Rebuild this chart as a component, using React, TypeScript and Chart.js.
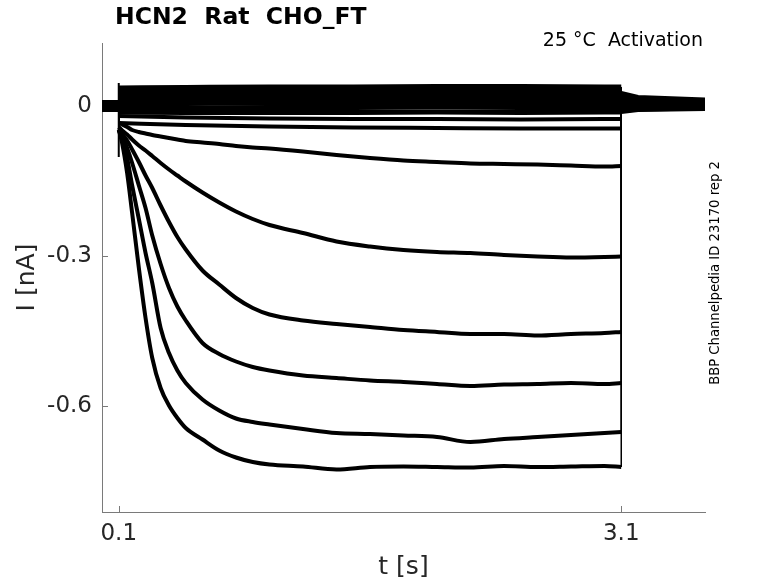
import { useEffect, useRef } from 'react';
import { Chart, registerables } from 'chart.js';

Chart.register(...registerables);

const TITLE = 'HCN2  Rat  CHO_FT';
const CONDITION = '25 °C  Activation';
const SOURCE = 'BBP Channelpedia ID 23170 rep 2';
const X_LABEL = 't [s]';
const Y_LABEL = 'I [nA]';

const X_TICKS = [0.1, 3.1];
const X_TICK_LABELS = ['0.1', '3.1'];
const Y_TICKS = [0, -0.3, -0.6];
const Y_TICK_LABELS = ['0', '-0.3', '-0.6'];

// time bases [s]
const T_PRE = [0, 0.1];
const T_CURVE = [0.1, 0.12, 0.15, 0.18, 0.22, 0.26, 0.3, 0.35, 0.4, 0.45, 0.5, 0.6, 0.7, 0.8, 0.9, 1.0, 1.2, 1.4, 1.6, 1.8, 2.0, 2.2, 2.4, 2.6, 2.8, 3.0, 3.1];
const T_FLAT = [0.1, 0.5, 1.0, 1.5, 2.0, 2.5, 3.0, 3.1];
const T_TAIL = [3.1, 3.2, 3.6];

// activating sweeps [nA] on T_CURVE
const I_A = [-0.048, -0.074, -0.134, -0.214, -0.324, -0.424, -0.504, -0.564, -0.599, -0.624, -0.644, -0.667, -0.689, -0.703, -0.712, -0.717, -0.721, -0.727, -0.722, -0.721, -0.722, -0.723, -0.72, -0.722, -0.721, -0.72, -0.722];
const I_B = [-0.048, -0.064, -0.104, -0.159, -0.226, -0.294, -0.354, -0.444, -0.494, -0.529, -0.554, -0.587, -0.609, -0.625, -0.632, -0.637, -0.646, -0.654, -0.656, -0.659, -0.662, -0.672, -0.666, -0.662, -0.658, -0.654, -0.652];
const I_C = [-0.048, -0.059, -0.084, -0.114, -0.159, -0.204, -0.259, -0.316, -0.364, -0.401, -0.429, -0.474, -0.496, -0.511, -0.522, -0.529, -0.539, -0.544, -0.549, -0.552, -0.556, -0.56, -0.557, -0.556, -0.554, -0.556, -0.554];
const I_D = [-0.046, -0.056, -0.069, -0.087, -0.112, -0.139, -0.164, -0.199, -0.232, -0.262, -0.287, -0.329, -0.357, -0.384, -0.404, -0.417, -0.429, -0.436, -0.442, -0.448, -0.452, -0.456, -0.456, -0.459, -0.456, -0.454, -0.452];
const I_E = [-0.042, -0.049, -0.057, -0.067, -0.079, -0.089, -0.1, -0.114, -0.127, -0.139, -0.151, -0.173, -0.193, -0.211, -0.226, -0.238, -0.254, -0.271, -0.281, -0.288, -0.292, -0.294, -0.298, -0.301, -0.303, -0.302, -0.301];
const I_F = [-0.034, -0.037, -0.042, -0.048, -0.052, -0.055, -0.058, -0.061, -0.064, -0.067, -0.07, -0.073, -0.076, -0.08, -0.083, -0.085, -0.091, -0.098, -0.104, -0.109, -0.112, -0.115, -0.116, -0.117, -0.119, -0.121, -0.12];

// barely activated sweeps [nA] on T_FLAT
const I_G1 = [0.036, 0.037, 0.038, 0.038, 0.039, 0.039, 0.038, 0.038];
const I_G2 = [0.028, 0.029, 0.03, 0.03, 0.031, 0.031, 0.03, 0.03];
const I_G3 = [0.02, 0.021, 0.022, 0.022, 0.023, 0.023, 0.022, 0.022];
const I_G4 = [0.012, 0.013, 0.014, 0.014, 0.015, 0.015, 0.014, 0.014];
const I_G5 = [0.004, 0.005, 0.006, 0.006, 0.007, 0.006, 0.006, 0.006];
const I_G6 = [-0.004, -0.004, -0.003, -0.003, -0.002, -0.003, -0.003, -0.003];
const I_G7 = [-0.012, -0.013, -0.013, -0.013, -0.012, -0.013, -0.012, -0.012];
const I_G8 = [-0.02, -0.023, -0.025, -0.026, -0.026, -0.027, -0.026, -0.026];
const I_G9 = [-0.034, -0.038, -0.041, -0.043, -0.044, -0.045, -0.045, -0.045];

// holding current before the step and tail after it, order A..F, G1..G9
const I_PRE = [0.008, -0.006, 0.004, -0.002, 0.006, -0.008, 0.002, -0.004, 0.007, 0.0, -0.007, 0.005, -0.003, 0.001, -0.005];
const I_TAIL_START = [0.026, 0.022, 0.018, 0.014, 0.01, 0.006, 0.003, 0.0, -0.003, -0.006, -0.008, -0.01, -0.004, 0.008, -0.012];
const I_TAIL_MID = [0.018, 0.015, 0.013, 0.01, 0.008, 0.005, 0.003, 0.001, -0.001, -0.003, -0.005, -0.007, -0.002, 0.006, -0.008];
const I_TAIL_END = [0.013, 0.011, 0.009, 0.008, 0.006, 0.004, 0.003, 0.001, 0.0, -0.002, -0.004, -0.005, -0.001, 0.005, -0.006];

// capacitive transient at step onset
const SPIKE_T = [0.1, 0.1];
const SPIKE_I = [0.046, -0.102];

const STEPS: { t: number[]; i: number[]; w: number }[] = [
  { t: T_CURVE, i: I_A, w: 4 },
  { t: T_CURVE, i: I_B, w: 4 },
  { t: T_CURVE, i: I_C, w: 4 },
  { t: T_CURVE, i: I_D, w: 4 },
  { t: T_CURVE, i: I_E, w: 4 },
  { t: T_CURVE, i: I_F, w: 4 },
  { t: T_FLAT, i: I_G1, w: 5 },
  { t: T_FLAT, i: I_G2, w: 5 },
  { t: T_FLAT, i: I_G3, w: 5 },
  { t: T_FLAT, i: I_G4, w: 5 },
  { t: T_FLAT, i: I_G5, w: 5 },
  { t: T_FLAT, i: I_G6, w: 5 },
  { t: T_FLAT, i: I_G7, w: 5 },
  { t: T_FLAT, i: I_G8, w: 4 },
  { t: T_FLAT, i: I_G9, w: 4 },
];

const FONT = 'DejaVu Sans';
const AXIS_COLOR = '#7a7a7a';
const TEXT_COLOR = '#262626';

const decorations = {
  id: 'decorations',
  beforeDatasetsDraw(chart: Chart) {
    const { ctx, chartArea } = chart;
    const xs = chart.scales.x;
    const ys = chart.scales.y;
    ctx.save();
    ctx.strokeStyle = AXIS_COLOR;
    ctx.lineWidth = 1;
    ctx.beginPath();
    X_TICKS.forEach((v) => {
      const px = Math.round(xs.getPixelForValue(v)) + 0.5;
      ctx.moveTo(px, chartArea.bottom);
      ctx.lineTo(px, chartArea.bottom - 6);
    });
    Y_TICKS.forEach((v) => {
      const py = Math.round(ys.getPixelForValue(v)) + 0.5;
      ctx.moveTo(chartArea.left, py);
      ctx.lineTo(chartArea.left + 6, py);
    });
    ctx.stroke();
    ctx.restore();
  },
  afterDraw(chart: Chart) {
    const { ctx, chartArea } = chart;
    ctx.save();
    ctx.fillStyle = '#000';
    ctx.textBaseline = 'middle';
    ctx.font = `bold 23.5px "${FONT}"`;
    ctx.textAlign = 'left';
    ctx.fillText(TITLE, 115, 18);

    ctx.font = `19px "${FONT}"`;
    ctx.textAlign = 'right';
    ctx.fillText(CONDITION, 703, 41);

    ctx.fillStyle = TEXT_COLOR;
    ctx.font = `25px "${FONT}"`;
    ctx.textAlign = 'center';
    ctx.fillText(X_LABEL, (chartArea.left + chartArea.right) / 2, 567);

    ctx.save();
    ctx.translate(27, (chartArea.top + chartArea.bottom) / 2);
    ctx.rotate(-Math.PI / 2);
    ctx.fillText(Y_LABEL, 0, 0);
    ctx.restore();

    ctx.fillStyle = '#000';
    ctx.save();
    ctx.translate(716, 273);
    ctx.rotate(-Math.PI / 2);
    ctx.font = `13.2px "${FONT}"`;
    ctx.fillText(SOURCE, 0, 0);
    ctx.restore();
    ctx.restore();
  },
};

const line = (points: { x: number; y: number }[], width: number, smooth: boolean) => ({
  data: points,
  borderColor: '#000',
  borderWidth: width,
  pointRadius: 0,
  tension: 0,
  cubicInterpolationMode: smooth ? 'monotone' : 'default',
});

export default function App() {
  const canvasRef = useRef<HTMLCanvasElement>(null);

  useEffect(() => {
    if (!canvasRef.current) return;
    document.body.style.margin = '0';

    const datasets: any[] = [];
    STEPS.forEach((s, k) => {
      const first = s.i[0];
      const last = s.i[s.i.length - 1];
      // holding level and the jump at step onset
      datasets.push(line(T_PRE.map((t) => ({ x: t, y: I_PRE[k] })), 4, false));
      datasets.push(line([{ x: 0.1, y: I_PRE[k] }, { x: 0.1, y: first }], 1.5, false));
      // the step sweep itself
      datasets.push(line(s.t.map((t, j) => ({ x: t, y: s.i[j] })), s.w, true));
      // jump back and tail
      datasets.push(line([{ x: 3.1, y: last }, { x: 3.1, y: I_TAIL_START[k] }], 1.5, false));
      datasets.push(
        line(
          T_TAIL.map((t, j) => ({ x: t, y: [I_TAIL_START, I_TAIL_MID, I_TAIL_END][j][k] })),
          4,
          false,
        ),
      );
    });
    datasets.push(line(SPIKE_T.map((t, j) => ({ x: t, y: SPIKE_I[j] })), 2, false));

    const chart = new Chart(canvasRef.current, {
      type: 'line',
      data: { datasets },
      options: {
        animation: false,
        responsive: false,
        layout: { padding: { left: 0, top: 43, right: 73, bottom: 0 } },
        scales: {
          x: {
            type: 'linear',
            min: 0,
            max: 3.6,
            afterBuildTicks: (s: any) => {
              s.ticks = X_TICKS.map((v) => ({ value: v }));
            },
            afterFit: (s: any) => {
              s.height = 71;
              s.paddingLeft = 0;
              s.paddingRight = 0;
            },
            ticks: {
              autoSkip: false,
              maxRotation: 0,
              padding: 8,
              color: TEXT_COLOR,
              font: { family: FONT, size: 23 },
              callback: (v: any) => X_TICK_LABELS[X_TICKS.indexOf(Number(v))] ?? '',
            },
            grid: { display: false, drawTicks: false },
            border: { display: true, color: AXIS_COLOR, width: 1 },
          },
          y: {
            type: 'linear',
            min: -0.812,
            max: 0.126,
            afterBuildTicks: (s: any) => {
              s.ticks = Y_TICKS.map((v) => ({ value: v }));
            },
            afterFit: (s: any) => {
              s.width = 102;
              s.paddingTop = 0;
              s.paddingBottom = 0;
            },
            ticks: {
              autoSkip: false,
              padding: 10,
              color: TEXT_COLOR,
              font: { family: FONT, size: 23 },
              callback: (v: any) => Y_TICK_LABELS[Y_TICKS.indexOf(Number(v))] ?? '',
            },
            grid: { display: false, drawTicks: false },
            border: { display: true, color: AXIS_COLOR, width: 1 },
          },
        },
        plugins: {
          legend: { display: false },
          tooltip: { enabled: false },
        },
      },
      plugins: [decorations],
    });

    return () => chart.destroy();
  }, []);

  return (
    <div style={{ width: 778, height: 583 }}>
      <canvas ref={canvasRef} width={778} height={583} />
    </div>
  );
}
